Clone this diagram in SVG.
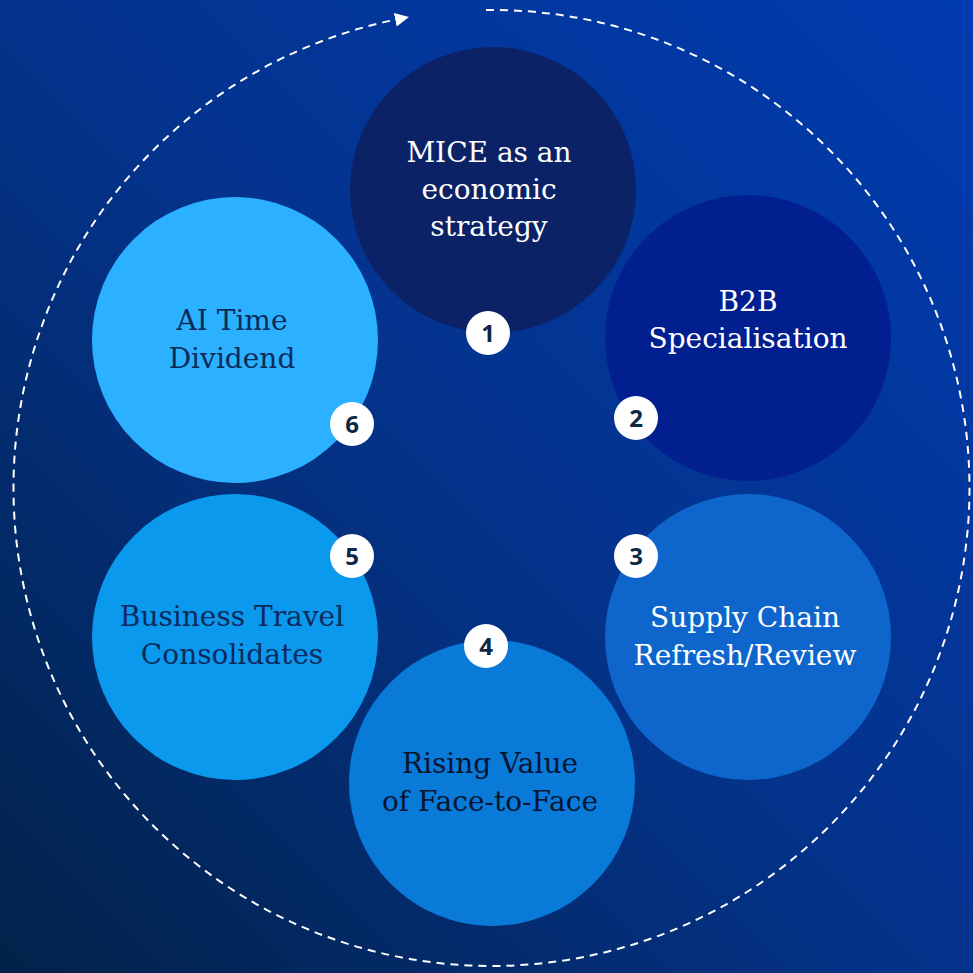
<svg xmlns="http://www.w3.org/2000/svg" width="973" height="973" viewBox="0 0 973 973">
  <defs>
    <linearGradient id="bg" x1="0" y1="1" x2="1" y2="0">
      <stop offset="0" stop-color="#022249"/>
      <stop offset="0.5" stop-color="#04338c"/>
      <stop offset="1" stop-color="#003bb0"/>
    </linearGradient>
    <marker id="arrow" viewBox="0 0 10 10" refX="2" refY="5" markerWidth="7" markerHeight="7" orient="auto" markerUnits="strokeWidth">
      <path d="M0,0 L10,5 L0,10 Z" fill="#ffffff"/>
    </marker>
    <style>
      .label { font-family: "DejaVu Serif", "Liberation Serif", serif; font-size: 28px; text-anchor: middle; }
      .light { fill: #ffffff; }
      .dark { fill: #0b2a5c; }
      .black { fill: #061530; }
      .badge circle { fill: #ffffff; }
      .badge text { font-family: "Open Sans", "DejaVu Sans", sans-serif; font-weight: 700; font-size: 24px; fill: #0d2747; text-anchor: middle; }
      .ring { fill: none; stroke: #ffffff; stroke-width: 2; stroke-dasharray: 8 6; }
    </style>
  </defs>

  <rect width="973" height="973" fill="url(#bg)"/>

  <!-- cycle ring -->
  <g id="connectors">
    <path class="ring" d="M486,10 A478,478 0 1 1 398,19.2" marker-end="url(#arrow)"/>
  </g>

  <g id="node1">
    <circle cx="493" cy="190" r="143" fill="#0b2366"/>
    <text class="label light" x="489" y="162">MICE as an</text>
    <text class="label light" x="489" y="199">economic</text>
    <text class="label light" x="489" y="236">strategy</text>
  </g>

  <g id="node2">
    <circle cx="748" cy="338" r="143" fill="#021f8f"/>
    <text class="label light" x="748" y="311">B2B</text>
    <text class="label light" x="748" y="348">Specialisation</text>
  </g>

  <g id="node3">
    <circle cx="748" cy="637" r="143" fill="#0e66cc"/>
    <text class="label light" x="745" y="627">Supply Chain</text>
    <text class="label light" x="745" y="665">Refresh/Review</text>
  </g>

  <g id="node4">
    <circle cx="492" cy="783" r="143" fill="#0a7ad8"/>
    <text class="label black" x="490" y="773">Rising Value</text>
    <text class="label black" x="490" y="811">of Face-to-Face</text>
  </g>

  <g id="node5">
    <circle cx="235" cy="637" r="143" fill="#0b99ee"/>
    <text class="label dark" x="232" y="626">Business Travel</text>
    <text class="label dark" x="232" y="664">Consolidates</text>
  </g>

  <g id="node6">
    <circle cx="235" cy="340" r="143" fill="#2bb1ff"/>
    <text class="label dark" x="232" y="330">AI Time</text>
    <text class="label dark" x="232" y="368">Dividend</text>
  </g>

  <!-- step badges -->
  <g id="badge1" class="badge"><circle cx="488" cy="333" r="22"/><text x="488" y="342">1</text></g>
  <g id="badge2" class="badge"><circle cx="636" cy="418" r="22"/><text x="636" y="427">2</text></g>
  <g id="badge3" class="badge"><circle cx="636" cy="556" r="22"/><text x="636" y="565">3</text></g>
  <g id="badge4" class="badge"><circle cx="486" cy="646" r="22"/><text x="486" y="655">4</text></g>
  <g id="badge5" class="badge"><circle cx="352" cy="556" r="22"/><text x="352" y="565">5</text></g>
  <g id="badge6" class="badge"><circle cx="352" cy="424" r="22"/><text x="352" y="433">6</text></g>
</svg>
